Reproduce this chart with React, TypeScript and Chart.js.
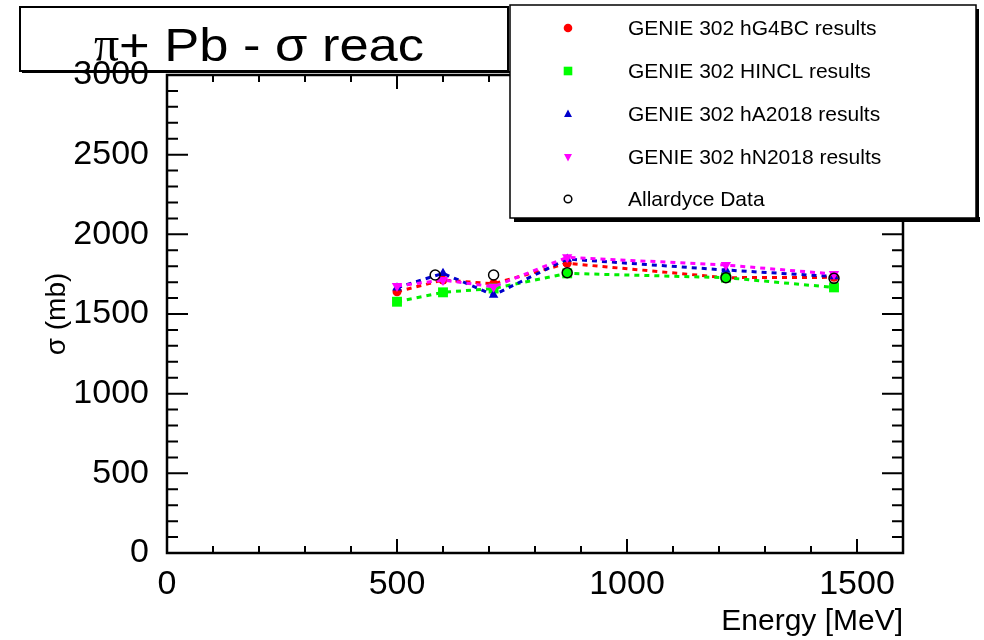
import React, { useEffect, useRef } from 'react';
import { Chart, registerables } from 'chart.js';

Chart.register(...registerables);

// ---- data ----
const energyMeV = [500, 600, 710, 870, 1215, 1450];
const sigmaHG4BC = [1640, 1713, 1690, 1818, 1728, 1730];
const sigmaHINCL = [1577, 1636, 1660, 1755, 1728, 1667];
const sigmaHA2018 = [1665, 1755, 1619, 1845, 1776, 1735];
const sigmaHN2018 = [1676, 1713, 1671, 1856, 1807, 1751];
const allardyceEnergy = [583, 710, 870, 1215, 1450];
const allardyceSigma = [1745, 1745, 1759, 1728, 1724];
const xTickValues = [0, 500, 1000, 1500];
const yTickValues = [0, 500, 1000, 1500, 2000, 2500, 3000];
const seriesLabels = [
  'GENIE 302 hG4BC results',
  'GENIE 302 HINCL results',
  'GENIE 302 hA2018 results',
  'GENIE 302 hN2018 results',
  'Allardyce Data',
];
const titleSymbol = 'π';
const titleRest = '+ Pb - σ reac';
const xAxisTitle = 'Energy [MeV]';
const yAxisTitle = 'σ (mb)';

const SANS = '"Liberation Sans", Arial, Helvetica, sans-serif';
const SERIF = '"Liberation Serif", "DejaVu Serif", serif';

const toPoints = (xs: number[], ys: number[]) => xs.map((x, i) => ({ x, y: ys[i] }));

function drawMarker(ctx: CanvasRenderingContext2D, kind: string, x: number, y: number, color: string) {
  ctx.save();
  ctx.fillStyle = color;
  ctx.strokeStyle = color;
  ctx.beginPath();
  if (kind === 'circle') {
    ctx.arc(x, y, 4.3, 0, Math.PI * 2);
    ctx.fill();
  } else if (kind === 'square') {
    ctx.fillRect(x - 4.3, y - 4.3, 8.6, 8.6);
  } else if (kind === 'tri') {
    ctx.moveTo(x, y - 4.5);
    ctx.lineTo(x + 4, y + 3);
    ctx.lineTo(x - 4, y + 3);
    ctx.closePath();
    ctx.fill();
  } else if (kind === 'triDown') {
    ctx.moveTo(x, y + 4.5);
    ctx.lineTo(x + 4, y - 3);
    ctx.lineTo(x - 4, y - 3);
    ctx.closePath();
    ctx.fill();
  } else if (kind === 'open') {
    ctx.lineWidth = 1.5;
    ctx.arc(x, y, 3.8, 0, Math.PI * 2);
    ctx.stroke();
  }
  ctx.restore();
}

const rootStylePlugin = {
  id: 'rootStyle',
  beforeDatasetsDraw(chart: any) {
    const { ctx, chartArea: a, scales } = chart;
    const x = scales.x;
    const y = scales.y;
    ctx.save();
    ctx.strokeStyle = '#000';
    ctx.lineWidth = 2.5;
    ctx.strokeRect(a.left, a.top, a.right - a.left, a.bottom - a.top);
    ctx.lineWidth = 2;
    ctx.beginPath();
    for (let v = 0; v <= 1600; v += 100) {
      const px = x.getPixelForValue(v);
      const len = v % 500 === 0 ? 14 : 7;
      ctx.moveTo(px, a.bottom);
      ctx.lineTo(px, a.bottom - len);
      ctx.moveTo(px, a.top);
      ctx.lineTo(px, a.top + len);
    }
    for (let v = 0; v <= 3000; v += 100) {
      const py = y.getPixelForValue(v);
      const len = v % 500 === 0 ? 21 : 11;
      ctx.moveTo(a.left, py);
      ctx.lineTo(a.left + len, py);
      ctx.moveTo(a.right, py);
      ctx.lineTo(a.right - len, py);
    }
    ctx.stroke();
    ctx.restore();
  },
  afterDraw(chart: any) {
    const { ctx } = chart;
    ctx.save();
    // title pave
    ctx.strokeStyle = '#000';
    ctx.lineWidth = 2;
    ctx.strokeRect(20, 7, 488, 64);
    ctx.fillStyle = '#000';
    ctx.fillRect(22, 71, 488, 2);
    // title text
    ctx.textBaseline = 'alphabetic';
    ctx.textAlign = 'left';
    ctx.font = `50px ${SERIF}`;
    ctx.fillText(titleSymbol, 94, 61);
    ctx.font = `47px ${SANS}`;
    const w = ctx.measureText(titleRest).width;
    const target = 424 - 119;
    ctx.save();
    ctx.translate(119, 61);
    ctx.scale(target / w, 1);
    ctx.fillText(titleRest, 0, 0);
    ctx.restore();

    // legend box
    ctx.fillStyle = '#000';
    ctx.fillRect(514, 217, 466, 5);
    ctx.fillRect(976, 9, 3, 213);
    ctx.fillStyle = '#fff';
    ctx.fillRect(510, 5, 466, 213);
    ctx.strokeStyle = '#000';
    ctx.lineWidth = 1.5;
    ctx.strokeRect(510, 5, 466, 213);

    const ds = chart.data.datasets;
    const kinds = ['circle', 'square', 'tri', 'triDown', 'open'];
    const rows = [28, 71, 114, 157, 199];
    ctx.font = `21px ${SANS}`;
    ctx.textBaseline = 'middle';
    ctx.textAlign = 'left';
    for (let i = 0; i < seriesLabels.length; i++) {
      const color = i === 4 ? '#000' : ds[i].backgroundColor;
      drawMarker(ctx, kinds[i], 568, rows[i], color);
      ctx.fillStyle = '#000';
      ctx.fillText(seriesLabels[i], 628, rows[i] + 1);
    }
    ctx.restore();
  },
};

export default function App() {
  const canvasRef = useRef<HTMLCanvasElement | null>(null);

  useEffect(() => {
    const canvas = canvasRef.current;
    if (!canvas) return;
    const dash = [5, 5];
    const chart = new Chart(canvas, {
      type: 'scatter',
      data: {
        datasets: [
          {
            label: seriesLabels[0],
            data: toPoints(energyMeV, sigmaHG4BC),
            showLine: true,
            borderColor: '#ff0000',
            backgroundColor: '#ff0000',
            borderDash: dash,
            borderWidth: 3,
            pointStyle: 'circle',
            pointRadius: 4.5,
            pointBorderWidth: 0,
            order: 4,
          },
          {
            label: seriesLabels[1],
            data: toPoints(energyMeV, sigmaHINCL),
            showLine: true,
            borderColor: '#00ee00',
            backgroundColor: '#00ff00',
            borderDash: dash,
            borderWidth: 3,
            pointStyle: 'rect',
            pointRadius: 7,
            pointBorderWidth: 0,
            order: 3,
          },
          {
            label: seriesLabels[2],
            data: toPoints(energyMeV, sigmaHA2018),
            showLine: true,
            borderColor: '#0000cc',
            backgroundColor: '#0000cc',
            borderDash: dash,
            borderWidth: 3,
            pointStyle: 'triangle',
            pointRadius: 5.5,
            pointBorderWidth: 0,
            order: 2,
          },
          {
            label: seriesLabels[3],
            data: toPoints(energyMeV, sigmaHN2018),
            showLine: true,
            borderColor: '#ff00ff',
            backgroundColor: '#ff00ff',
            borderDash: dash,
            borderWidth: 3,
            pointStyle: 'triangle',
            pointRotation: 180,
            pointRadius: 6,
            pointBorderWidth: 0,
            order: 1,
          },
          {
            label: seriesLabels[4],
            data: toPoints(allardyceEnergy, allardyceSigma),
            showLine: false,
            borderColor: '#000000',
            backgroundColor: 'rgba(0,0,0,0)',
            pointStyle: 'circle',
            pointRadius: 5,
            pointBorderWidth: 1.5,
            order: 0,
          },
        ],
      },
      options: {
        animation: false,
        responsive: false,
        maintainAspectRatio: false,
        devicePixelRatio: 1,
        layout: { padding: { left: 0, top: 75, right: 81, bottom: 0 } },
        plugins: {
          legend: { display: false },
          title: { display: false },
          tooltip: { enabled: false },
        },
        scales: {
          x: {
            type: 'linear',
            min: 0,
            max: 1600,
            afterFit: (s: any) => {
              s.height = 87;
            },
            afterBuildTicks: (s: any) => {
              s.ticks = xTickValues.map((v) => ({ value: v }));
            },
            grid: { display: false, drawTicks: false },
            border: { display: false },
            ticks: {
              padding: 11,
              color: '#000',
              font: { family: SANS, size: 34 },
              maxRotation: 0,
              autoSkip: false,
              callback: (v: any) => String(v),
            },
            title: {
              display: true,
              text: xAxisTitle,
              align: 'end',
              color: '#000',
              font: { family: SANS, size: 30 },
              padding: { top: 0, bottom: 0 },
            },
          },
          y: {
            type: 'linear',
            min: 0,
            max: 3000,
            afterFit: (s: any) => {
              s.width = 167;
            },
            afterBuildTicks: (s: any) => {
              s.ticks = yTickValues.map((v) => ({ value: v }));
            },
            grid: { display: false, drawTicks: false },
            border: { display: false },
            ticks: {
              padding: 18,
              color: '#000',
              font: { family: SANS, size: 34 },
              autoSkip: false,
              callback: (v: any) => String(v),
            },
            title: {
              display: true,
              text: yAxisTitle,
              align: 'center',
              color: '#000',
              font: { family: SANS, size: 28 },
              padding: { top: 40, bottom: 0 },
            },
          },
        },
      },
      plugins: [rootStylePlugin],
    } as any);
    return () => chart.destroy();
  }, []);

  return (
    <div style={{ position: 'absolute', left: 0, top: 0, width: 984, height: 640, background: '#fff' }}>
      <canvas ref={canvasRef} width={984} height={640} style={{ display: 'block', width: 984, height: 640 }} />
    </div>
  );
}
